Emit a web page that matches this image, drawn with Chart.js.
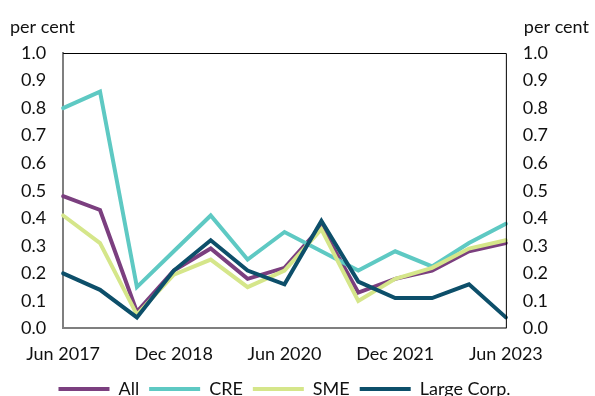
<!DOCTYPE html>
<html>
<head>
<meta charset="utf-8">
<script src="https://cdn.jsdelivr.net/npm/chart.js@4"></script>
<style>
  html, body { margin: 0; padding: 0; background: #fff; overflow: hidden; }
  #wrap { width: 595px; height: 408px; }
</style>
</head>
<body>
<div id="wrap"><canvas id="lossChart" width="595" height="408"></canvas></div>
<script>
// half-yearly observations, Jun 2017 .. Jun 2023
const periods = ['Jun 2017', 'Dec 2017', 'Jun 2018', 'Dec 2018', 'Jun 2019', 'Dec 2019',
    'Jun 2020', 'Dec 2020', 'Jun 2021', 'Dec 2021', 'Jun 2022', 'Dec 2022', 'Jun 2023'];
const shownTicks = ['Jun 2017', 'Dec 2018', 'Jun 2020', 'Dec 2021', 'Jun 2023'];
const yTicks = [0, 0.1, 0.2, 0.3, 0.4, 0.5, 0.6, 0.7, 0.8, 0.9, 1.0];

const allLoans = [0.48, 0.43, 0.06, 0.21, 0.29, 0.18, 0.22, 0.37, 0.13, 0.18, 0.21, 0.28, 0.31];
const cre = [0.80, 0.86, 0.15, 0.28, 0.41, 0.25, 0.35, 0.28, 0.21, 0.28, 0.225, 0.31, 0.38];
const sme = [0.41, 0.31, 0.05, 0.195, 0.25, 0.15, 0.21, 0.36, 0.10, 0.18, 0.22, 0.29, 0.32];
const largeCorp = [0.20, 0.14, 0.04, 0.21, 0.32, 0.21, 0.16, 0.39, 0.17, 0.11, 0.11, 0.16, 0.04];

const FONT = 'Lato, "Open Sans", sans-serif';

function series(label, data, color) {
    return {
        label: label,
        data: data,
        borderColor: color,
        backgroundColor: color,
        borderWidth: 4,
        borderCapStyle: 'round',
        pointRadius: 0,
        tension: 0,
        pointStyle: 'line'
    };
}

// frame along the top and right of the plot, plus the "per cent" unit labels
const framePlugin = {
    id: 'frame',
    afterDraw(chart) {
        const { ctx, chartArea: a, scales } = chart;
        ctx.save();
        ctx.strokeStyle = '#000';
        ctx.lineWidth = 1;
        ctx.beginPath();
        ctx.moveTo(a.left, a.top + 0.5);
        ctx.lineTo(a.right + 0.5, a.top + 0.5);
        ctx.lineTo(a.right + 0.5, a.bottom);
        ctx.stroke();

        ctx.fillStyle = '#111';
        ctx.font = '18px ' + FONT;
        ctx.textBaseline = 'middle';
        ctx.textAlign = 'left';
        ctx.fillText('per cent', scales.y.left + 6, a.top - 26);
        ctx.fillText('per cent', scales.y2.left + 18, a.top - 26);
        ctx.restore();
    }
};

const tickFont = { family: FONT, size: 18 };

const ctx = document.getElementById('lossChart').getContext('2d');
new Chart(ctx, {
    type: 'line',
    data: {
        labels: periods,
        // reversed so that Large Corp. is drawn on top; legend is flipped back
        datasets: [
            series('Large Corp.', largeCorp, '#0d4f6a'),
            series('SME', sme, '#d5e68a'),
            series('CRE', cre, '#5ec9c3'),
            series('All', allLoans, '#7b3f7f')
        ]
    },
    options: {
        responsive: false,
        animation: false,
        layout: { padding: { top: 53, left: 4, right: 30, bottom: 0 } },
        plugins: {
            tooltip: { enabled: false },
            legend: {
                position: 'bottom',
                reverse: true,
                labels: {
                    usePointStyle: true,
                    pointStyleWidth: 51,
                    padding: 10,
                    color: '#111',
                    font: { family: FONT, size: 18 }
                }
            }
        },
        scales: {
            x: {
                grid: { display: false, drawTicks: false },
                border: { color: '#7f7f7f', width: 2 },
                ticks: {
                    autoSkip: false,
                    maxRotation: 0,
                    padding: 15,
                    color: '#111',
                    font: tickFont,
                    callback: function (value) {
                        const lbl = this.getLabelForValue(value);
                        return shownTicks.includes(lbl) ? lbl : '';
                    }
                },
                // let the end labels hang past the plot edges
                afterFit: axis => {
                    axis.paddingLeft = 0;
                    axis.paddingRight = 0;
                    axis.height -= 10;
                }
            },
            y: {
                position: 'left',
                min: 0,
                max: 1,
                afterBuildTicks: axis => { axis.ticks = yTicks.map(v => ({ value: v })); },
                grid: { display: false, drawTicks: false },
                border: { color: '#7f7f7f', width: 2 },
                ticks: {
                    padding: 17,
                    color: '#111',
                    font: tickFont,
                    callback: v => v.toFixed(1)
                }
            },
            y2: {
                position: 'right',
                min: 0,
                max: 1,
                afterBuildTicks: axis => { axis.ticks = yTicks.map(v => ({ value: v })); },
                grid: { display: false, drawTicks: false },
                border: { display: false },
                ticks: {
                    padding: 17,
                    color: '#111',
                    font: tickFont,
                    callback: v => v.toFixed(1)
                }
            }
        }
    },
    plugins: [framePlugin]
});
</script>
</body>
</html>
